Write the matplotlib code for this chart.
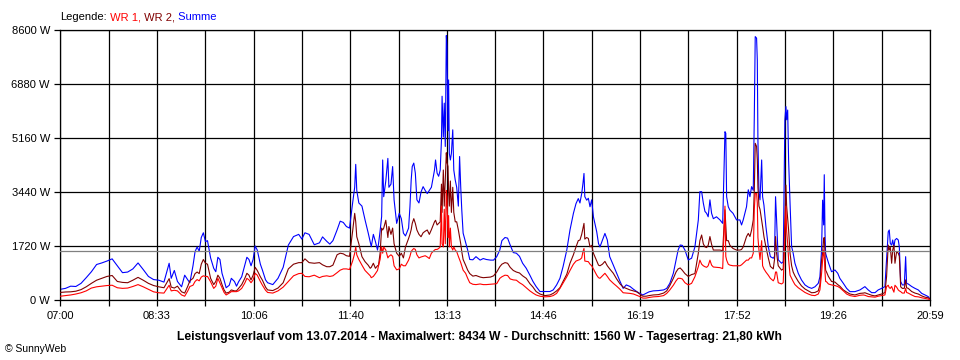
import numpy as np
import matplotlib
matplotlib.use("Agg")
import matplotlib.pyplot as plt


# DATA  (minutes after 07:00, power in W)

minutes = [
    0, 5, 10, 15, 20, 25, 30, 35, 40, 45, 50, 55, 60, 65, 70, 75, 80, 85, 90, 95,
    100, 105, 107, 110, 113, 117, 120, 123, 125, 128, 130, 132, 134, 136, 138, 140,
    142, 145, 148, 150, 152, 154, 156, 158, 160, 163, 165, 168, 170, 172, 175, 178,
    180, 182, 184, 186, 188, 190, 193, 195, 198, 200, 205, 210, 215, 220, 225, 230,
    233, 236, 240, 245, 250, 253, 257, 260, 263, 267, 270, 273, 276, 279,
    282, 284, 285, 286, 288, 291, 294, 297, 299, 300,
    302, 304, 306, 307, 308.5, 310, 311, 312, 314, 316,
    317, 319, 320.6, 322, 324.5, 327, 329, 331, 333, 336,
    337.3, 338.5, 339.5, 341, 342.5, 344, 346, 348, 350, 352,
    354, 356, 358, 361, 362, 363.5, 365, 366.5, 367.7, 368.3,
    369.5, 370.4, 371.4, 372.4, 373, 374, 374.6, 375.3, 376.3, 377.3,
    378.6, 379.6, 381, 382.4, 384, 385.2, 386.3, 387.3, 388.6, 391,
    393, 395, 398, 401, 405, 408, 411, 415, 418, 421,
    424, 426, 429, 431.5, 434, 437, 440, 443, 446, 449.5,
    453, 456, 459, 462.7, 467.6, 472.4, 475.5, 478.8, 482, 485,
    488.6, 491.7, 495, 497.5, 499.7, 501.3, 503, 504.2, 505.2, 506,
    507.8, 509.4, 511, 512.6, 514.3, 517.5, 519.2, 520.6, 523, 525.4,
    527.7, 530, 533.5, 536.7, 540, 543, 546, 549.6, 553, 556, 559, 562,
    565, 568, 572, 577, 582, 585, 588, 591.4, 594, 596,
    598, 600, 602.6, 605.8, 609, 612.2, 615.5, 617, 618.7, 620.3,
    621.9, 623.5, 625, 626.7, 628.3, 630, 633, 636.4, 639, 641.2,
    642, 642.8, 644.4, 646, 649, 652.4, 655.6, 657.2, 658.8, 662,
    663.7, 665.3, 666.9, 668.5, 669.5, 670.4, 671.7, 672.4, 673, 674,
    675, 676.6, 677.5, 678.8, 680.7, 683, 685, 687.8, 689, 690,
    691, 692.6, 695.8, 697.4, 699, 700, 700.7, 701.7, 702.6, 704,
    705.5, 707, 708.7, 711.9, 715,
    718.4, 721.6, 724.8, 728, 731.2, 732.8, 734.4, 735.4, 736.4, 737,
    737.7, 738.3, 739.2, 741, 744, 747.3, 750, 752, 755.4, 758.6,
    761.8, 766.6, 771.4, 774.7, 776.2, 779.4, 782.7, 786, 789, 792.3,
    795.5, 797.1, 798.7, 799.7, 800.7, 802, 803, 804.2, 805.2, 806.8,
    808.4, 809.4, 810.7, 812.3, 814.2, 815.5, 816.4, 818, 821.3, 824.5,
    827.7, 831, 834.2, 837.3, 839,
]

summe = [
    350, 380, 450, 440, 540, 720, 910, 1140, 1190, 1250, 1320, 1100, 880, 900, 1000, 1190, 980, 760, 660, 640,
    580, 1180, 700, 950, 600, 430, 800, 650, 560, 1100, 1550, 1700, 1560, 2000, 2150, 1870,
    1900, 1350, 1020, 910, 1370, 1300, 860, 640, 400, 480, 700, 600, 450, 590, 750, 1120,
    1370, 1300, 1100, 1300, 1730, 1600, 1150, 960, 650, 560, 500, 700, 1050, 1760, 2030, 2100,
    1950, 2150, 2100, 1770, 1830, 2020, 1880, 1790, 1900, 2240, 2520, 2480, 2350, 2300,
    3100, 3600, 4330, 3500, 3100, 3000, 2560, 2150, 1850, 1710,
    2100, 1870, 1600, 1800, 2200, 2670, 4470, 3300, 3800, 4520,
    3600, 3700, 4260, 3200, 2450, 2770, 2600, 2140, 2050, 2300,
    2980, 3830, 4260, 4370, 4050, 3200, 3100, 3450, 3620, 3500,
    3400, 3500, 3600, 4150, 4470, 4050, 3950, 4150, 5100, 6500,
    5200, 6280, 4900, 8434, 8100, 5400, 7020, 4680, 4470, 4680,
    5430, 4150, 3830, 3600, 3000, 4580, 3600, 2880, 2140, 1850,
    1600, 1300, 1290, 1390, 1280, 1330, 1300, 1280, 1280, 1390,
    1600, 1900, 2000, 1980, 1760, 1520, 1500, 1400, 1180, 1020,
    800, 600, 440, 280, 280, 280, 330, 490, 700, 1070,
    1600, 2240, 2770, 3080, 3240, 3100, 3400, 3720, 4040, 3300,
    3190, 3250, 2980, 3200, 2660, 2180, 1810, 1700, 1920, 2130,
    1920, 1390, 1120, 860, 600, 380, 490, 440, 350, 280, 220, 170,
    220, 270, 300, 310, 330, 380, 540, 860, 1280, 1600,
    1760, 1750, 1600, 1285, 1340, 1700, 2560, 3460, 3460, 3100,
    2830, 2770, 2660, 3200, 2770, 2600, 2660, 2560, 2450, 5370,
    5320, 3300, 2980, 2870, 2770, 2560, 2560, 2400, 2560, 2980,
    3520, 3300, 3620, 3500, 5850, 8400, 8350, 7650, 5100, 3410,
    3200, 4470, 3300, 3030, 2350, 1710, 1390, 1340, 1400, 3300,
    2560, 1290, 1180, 1230, 5750, 6170, 5750, 6060, 4470, 3080,
    1710, 1500, 1180, 860, 650,
    490, 420, 380, 430, 540, 750, 1600, 3190, 2400, 4000,
    2130, 1500, 1390, 1200, 910, 965, 860, 700, 540, 380,
    276, 276, 330, 400, 435, 330, 244, 244, 330, 380,
    435, 1280, 2180, 2240, 1810, 1760, 1920, 1700, 1920, 1970,
    1920, 1700, 600, 490, 490, 1390, 540, 520, 440, 380,
    330, 220, 170, 117, 40,
]

wr2 = [
    250, 265, 270, 290, 340, 430, 540, 640, 700, 760, 790, 600, 570, 560, 640, 730, 640, 540, 470, 430,
    400, 690, 420, 390, 450, 270, 230, 450, 620, 700, 850, 900, 850, 1150, 1300, 1180,
    1150, 700, 500, 600, 800, 700, 500, 330, 230, 260, 330, 300, 300, 380, 500, 700,
    860, 800, 650, 800, 1050, 950, 750, 640, 420, 330, 310, 390, 560, 1000, 1150, 1200,
    1200, 1320, 1200, 1180, 1200, 1130, 1070, 1070, 1120, 1450, 1500, 1480, 1420, 1400,
    2200, 2770, 2500, 2025, 1800, 1390, 1230, 1120, 1020, 1050,
    1180, 1020, 1100, 1120, 1500, 2300, 2240, 2300, 2550, 2000,
    2350, 2100, 2300, 1800, 1500, 1400, 1500, 1350, 1700, 1970,
    2100, 2250, 2450, 2600, 2450, 2240, 2100, 2025, 2150, 2200,
    2240, 2100, 2250, 2500, 2550, 2400, 2450, 2500, 3700, 2800,
    4150, 3000, 3830, 4700, 4400, 4260, 3500, 3000, 3800, 2800,
    3600, 2800, 2500, 2500, 2240, 2000, 1800, 1550, 1300, 1120,
    960, 850, 770, 790, 740, 720, 730, 740, 780, 900,
    1070, 1150, 1200, 1180, 1050, 950, 900, 870, 780, 700,
    530, 420, 280, 200, 150, 170, 220, 300, 400, 600,
    830, 1180, 1450, 1700, 1900, 1920, 2100, 2300, 2450, 1950,
    2000, 1970, 1700, 1750, 1500, 1250, 1120, 1100, 1150, 1240,
    1100, 1000, 860, 680, 520, 420, 380, 330, 300, 270, 200, 130,
    130, 150, 170, 180, 230, 300, 470, 700, 900, 1000,
    1030, 960, 850, 760, 820, 850, 1500, 1900, 2080, 1800,
    1700, 1680, 1750, 2030, 1780, 1600, 1600, 1600, 1580, 2880,
    2400, 1900, 1900, 1750, 1650, 1600, 1600, 1620, 1700, 2030,
    2130, 2030, 2240, 2560, 3500, 5000, 4900, 4470, 3600, 3000,
    2900, 2560, 2350, 2030, 1700, 1350, 1080, 1000, 1300, 2030,
    1500, 1100, 960, 1000, 2500, 3670, 3000, 2600, 2240, 1500,
    1100, 900, 780, 600, 460,
    360, 300, 240, 250, 300, 490, 1280, 1500, 1970, 2000,
    1500, 960, 900, 760, 600, 580, 500, 450, 330, 260,
    200, 170, 220, 230, 240, 200, 160, 140, 170, 200,
    244, 750, 1760, 1600, 1700, 1180, 1600, 1760, 1180, 1550,
    1500, 1400, 430, 380, 380, 650, 400, 380, 280, 230,
    200, 140, 100, 80, 30,
]

wr1 = [
    130, 150, 170, 200, 240, 300, 390, 430, 450, 470, 480, 400, 380, 390, 440, 500, 430, 350, 270, 240,
    230, 480, 300, 320, 300, 170, 130, 300, 440, 480, 600, 660, 620, 740, 780, 760,
    760, 590, 380, 450, 700, 550, 400, 250, 170, 230, 276, 276, 276, 300, 380, 550,
    700, 650, 560, 650, 860, 800, 600, 480, 320, 250, 230, 300, 420, 600, 780, 850,
    860, 760, 750, 800, 720, 760, 780, 760, 780, 880, 960, 1000, 1000, 980,
    1250, 1500, 1700, 1450, 1300, 1120, 950, 850, 780, 720,
    760, 850, 950, 1100, 1300, 1700, 1500, 1700, 1600, 1350,
    1400, 1450, 1400, 1100, 970, 1000, 1150, 1100, 1100, 1280,
    1400, 1550, 1600, 1650, 1620, 1450, 1350, 1380, 1400, 1420,
    1380, 1330, 1500, 1600, 1620, 1620, 1650, 1700, 3000, 1800,
    1700, 2900, 1800, 3500, 3300, 2000, 2700, 1700, 2300, 1700,
    1600, 1700, 1600, 1550, 1400, 1300, 1200, 1100, 960, 860,
    700, 560, 510, 500, 520, 500, 500, 510, 520, 530,
    700, 750, 800, 790, 680, 650, 640, 560, 500, 400,
    300, 230, 170, 130, 110, 120, 150, 220, 380, 550,
    750, 950, 1150, 1250, 1280, 1300, 1350, 1550, 1650, 1250,
    1240, 1230, 1150, 1100, 1000, 800, 720, 700, 780, 860,
    760, 650, 540, 450, 350, 240, 230, 220, 200, 160, 120, 70,
    70, 90, 110, 120, 150, 220, 330, 480, 620, 700,
    700, 680, 560, 490, 540, 750, 1070, 1280, 1150, 1100,
    1070, 1050, 1100, 1280, 1120, 1060, 1050, 1040, 1010, 3000,
    1400, 1280, 1150, 1120, 1100, 1100, 1100, 1130, 1180, 1280,
    1280, 1350, 1350, 1500, 2900, 3400, 3400, 3100, 2000, 1600,
    1300, 1900, 1100, 1000, 900, 800, 700, 620, 700, 900,
    900, 560, 520, 560, 2000, 3000, 2200, 1800, 1300, 800,
    700, 600, 500, 400, 330,
    250, 200, 160, 150, 200, 330, 860, 1280, 1600, 1400,
    900, 600, 590, 520, 490, 470, 440, 400, 300, 200,
    150, 120, 160, 170, 160, 120, 110, 100, 130, 150,
    170, 435, 480, 400, 380, 440, 350, 260, 480, 420,
    330, 300, 276, 230, 230, 380, 250, 230, 170, 120,
    110, 80, 60, 40, 10,
]

durchschnitt = 1560
day_minutes = 839
y_ticks = [0, 1720, 3440, 5160, 6880, 8600]
y_labels = ["0 W", "1720 W", "3440 W", "5160 W", "6880 W", "8600 W"]
x_labels = ["07:00", "08:33", "10:06", "11:40", "13:13",
            "14:46", "16:19", "17:52", "19:26", "20:59"]

title = ("Leistungsverlauf vom 13.07.2014 - Maximalwert: 8434 W - "
         "Durchschnitt: 1560 W - Tagesertrag: 21,80 kWh")


# PLOT

plt.rcParams["font.family"] = ["Liberation Sans", "DejaVu Sans"]

fig = plt.figure(figsize=(9.6, 3.6), dpi=100)
fig.patch.set_facecolor("white")
ax = fig.add_axes([60.3 / 960, 59.7 / 360, 869.7 / 960, 270 / 360])

ax.plot(minutes, summe, color="#0000FF", lw=0.8, zorder=2)
ax.plot(minutes, wr2, color="#800000", lw=0.8, zorder=3)
ax.plot(minutes, wr1, color="#FF0000", lw=0.8, zorder=4)
ax.axhline(durchschnitt, color="#808080", lw=0.9, zorder=5)

ax.set_xlim(0, day_minutes)
ax.set_ylim(0, 8600)

xt = np.linspace(0, day_minutes, 19)
xl = []
for i in range(19):
    xl.append(x_labels[i // 2] if i % 2 == 0 else "")
ax.set_xticks(xt)
ax.set_xticklabels(xl)
ax.set_yticks(y_ticks)
ax.set_yticklabels(y_labels)

ax.grid(True, color="black", lw=0.9, zorder=1)
ax.set_axisbelow(True)
for s in ax.spines.values():
    s.set_color("black")
    s.set_linewidth(0.9)

ax.tick_params(axis="both", length=4.5, width=0.9, color="black",
               labelsize=8, pad=3)

# legend line on top
t = fig.text(60 / 960, 1 - 17 / 360, "Legende:", fontsize=8, va="center", ha="left")
for label, col in [(" WR 1,", "#FF0000"), (" WR 2,", "#800000"), (" Summe", "#0000FF")]:
    t = ax.annotate(label, xy=(1, 0), xycoords=t, va="bottom", ha="left",
                    color=col, fontsize=8)

fig.text(479 / 960, 1 - 337 / 360, title, fontsize=8.7, fontweight="bold",
         ha="center", va="center")
fig.text(5 / 960, 1 - 349 / 360, "\u00a9 SunnyWeb", fontsize=7.5,
         ha="left", va="center")

fig.savefig("out.png", dpi=100)
plt.close(fig)
